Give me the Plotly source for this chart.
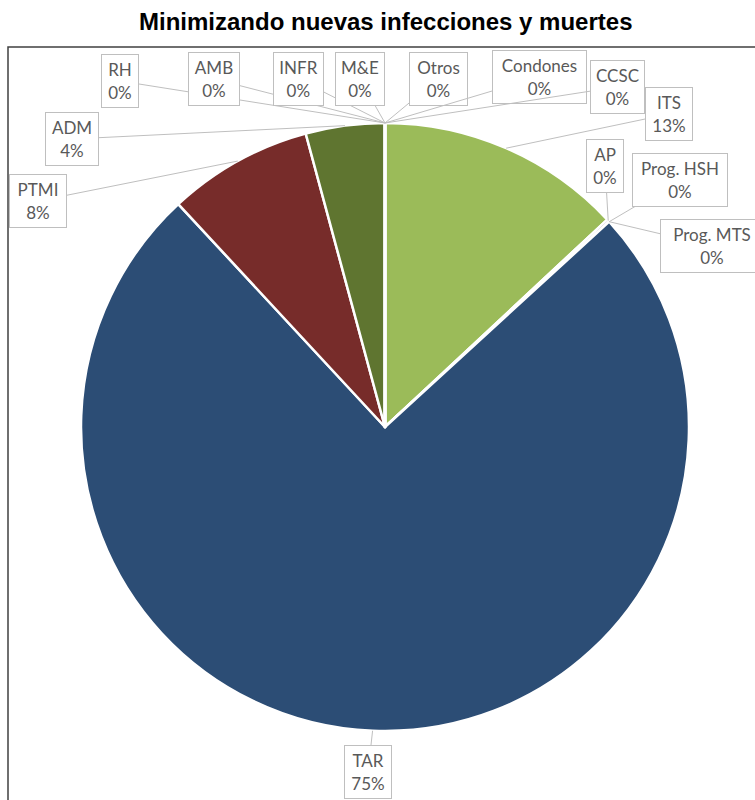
import math
import plotly.graph_objects as go

# ---- data ----
labels = ["ITS", "AP", "Prog. HSH", "Prog. MTS", "TAR", "PTMI", "ADM",
          "RH", "AMB", "INFR", "M&E", "Otros", "Condones", "CCSC"]
values = [13.05, 0.15, 0.0, 0.0, 74.9, 7.7, 4.2,
          0.0, 0.0, 0.0, 0.0, 0.0, 0.0, 0.0]
colors = ["#9BBB59", "#8064A2", "#4BACC6", "#F79646", "#2C4D75", "#772C2A", "#5F7530",
          "#4F81BD", "#C0504D", "#8064A2", "#4BACC6", "#F79646", "#9BBB59", "#C0504D"]
# callout box centres and widths (layout, in pixels from top-left)
box_pos = {
    "ITS": (669, 114), "AP": (605, 166), "Prog. HSH": (680, 180), "Prog. MTS": (712, 246),
    "TAR": (368, 772), "PTMI": (38, 201), "ADM": (72, 139), "RH": (120, 81),
    "AMB": (214, 79), "INFR": (298, 79), "M&E": (360, 79), "Otros": (438, 79),
    "Condones": (539, 77), "CCSC": (617, 87),
}
box_w = {
    "ITS": 48, "AP": 38, "Prog. HSH": 96, "Prog. MTS": 104, "TAR": 48, "PTMI": 58,
    "ADM": 54, "RH": 38, "AMB": 52, "INFR": 51, "M&E": 50, "Otros": 59,
    "Condones": 95, "CCSC": 55,
}

W, H = 755, 800
CX, CY, R = 385, 427, 304  # pie layout in pixels
PAD = 3

fig = go.Figure(go.Pie(
    labels=labels, values=values, sort=False, direction="clockwise", rotation=0,
    textinfo="none", hoverinfo="label+percent", showlegend=False,
    marker=dict(colors=colors, line=dict(color="white", width=2.5)),
    domain=dict(x=[(CX - R) / W, (CX + R) / W], y=[(H - CY - R) / H, (H - CY + R) / H]),
))

total = sum(values)
cum = 0.0
annotations = []
for lab, v in zip(labels, values):
    mid = (cum + v / 2) / total * 2 * math.pi
    cum += v
    tx = CX + R * math.sin(mid)
    ty = CY - R * math.cos(mid)
    bx, by = box_pos[lab]
    pct = round(v / total * 100)
    annotations.append(dict(
        x=tx / W, y=1 - ty / H, xref="paper", yref="paper",
        ax=bx - tx, ay=by - ty, axref="pixel", ayref="pixel",
        text=f"{lab}<br>{pct}%", showarrow=True, arrowhead=0, arrowwidth=1,
        arrowcolor="#BFBFBF", standoff=0, startstandoff=0,
        width=box_w[lab] - 2 * PAD - 2, height=46,
        bordercolor="#BFBFBF", borderwidth=1, borderpad=PAD, bgcolor="white",
        font=dict(family="Lato", size=17, color="#595959"), align="center",
        valign="middle",
    ))

annotations.append(dict(
    x=CX / W, y=1 - 22 / H, xref="paper", yref="paper", showarrow=False,
    text="<b>Minimizando nuevas infecciones y muertes</b>",
    font=dict(family="Liberation Sans, Arial", size=24, color="black"),
    xanchor="center", yanchor="middle",
))

fig.update_layout(
    width=W, height=H, margin=dict(l=0, r=0, t=0, b=0),
    paper_bgcolor="white", plot_bgcolor="white",
    annotations=annotations,
    shapes=[dict(type="rect", xref="paper", yref="paper",
                 x0=8 / W, x1=1.01, y0=-0.01, y1=1 - 47 / H,
                 line=dict(color="#404040", width=1.5), layer="below")],
)

fig.write_html("out.html")
